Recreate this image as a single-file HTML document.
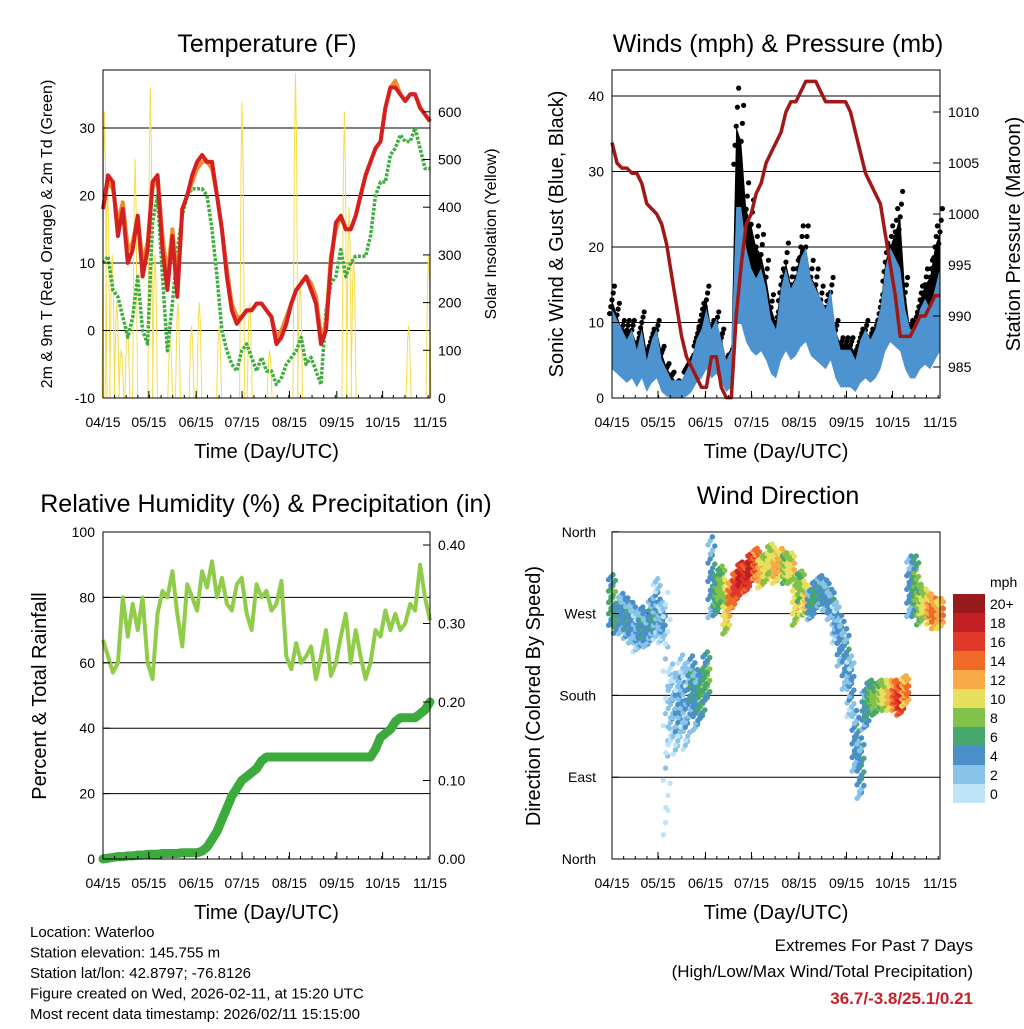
<!DOCTYPE html>
<html><head><meta charset="utf-8"><style>
html,body{margin:0;padding:0;background:#fff}
svg text{font-family:"Liberation Sans",sans-serif}
</style></head><body>
<svg id="s" width="1024" height="1024" viewBox="0 0 1024 1024" xmlns="http://www.w3.org/2000/svg"></svg>
<script>
// ---------- DATA ----------
const monthTicks = ["04/15","05/15","06/15","07/15","08/15","09/15","10/15","11/15"];
const tempRed = [18,23,22,14,18,10,12,17,8,12,22,23,12,6,14,5,18,20,23,25,26,25,25,20,15,8,3,1,2,3,3,4,4,3,2,-2,-1,1,4,6,7,8,6,4,-2,0,10,16,17,15,15,17,20,23,25,27,28,33,36,36,35,34,35,35,33,32,31];
const tempOrange = [18,22,21,16,19,12,13,17,10,13,21,23,14,8,15,7,18,20,22,24,25,25,24,20,15,9,4,2,2,3,3,4,4,3,2,-1,0,2,4,6,7,8,7,5,-1,1,11,15,17,15,15,17,20,23,25,27,28,33,36,37,35,34,35,35,33,32,31];
const tempGreen = [10,11,6,5,2,-1,2,8,0,-2,16,20,8,-3,4,12,17,20,21,21,21,20,15,8,0,-3,-5,-6,-3,-2,-4,-6,-4,-6,-6,-8,-7,-5,-4,-3,-1,-5,-4,-6,-8,3,7,8,12,8,10,11,11,11,14,20,22,22,26,27,29,28,28,30,27,24,24];
const solarPeakDay = [1,3,6,9,12,16,21,31,34,44,49,58,63,76,91,96,109,126,129,158,161,164,200,213];
const solarPeakVal = [600,450,300,200,100,150,500,650,300,120,200,150,200,150,620,200,100,680,250,600,400,300,150,300];
const windSonic = [8,7,6,5,6,4,6,3,5,6,3,2,1,1,1,2,3,5,6,8,6,7,5,3,4,18,18,14,12,11,12,10,7,6,10,12,10,11,13,14,11,10,9,8,10,6,4,4,4,3,5,6,5,6,8,12,14,13,12,8,6,6,8,9,8,10,12];
const windGust = [13,11,9,9,9,7,10,6,8,9,6,4,3,2,2,4,5,8,11,13,9,10,8,5,6,36,34,25,23,20,19,16,12,10,15,18,15,16,20,20,16,15,13,12,14,9,7,7,7,6,8,9,8,9,12,18,20,22,24,14,9,10,13,15,16,20,22];
const pressure = [1007,1005,1004.5,1004.5,1004,1004,1003,1001,1000.5,1000,999,997,994,991,988,986,985,984,983,983,986,986,983,982,982,990,995,999,1000,1002,1003,1005,1006,1007,1008,1010,1011,1011,1012,1013,1013,1013,1012,1011,1011,1011,1011,1011,1010,1008,1006,1004,1003,1002,1001,998,995,992,988,988,988,989,990,990,991,992,992];
const rh = [67,62,57,60,80,68,78,70,80,60,55,75,82,80,88,75,65,84,80,76,88,83,91,80,86,78,76,84,86,75,70,84,80,82,76,78,85,62,58,66,60,62,65,55,62,70,56,60,68,75,60,70,62,55,60,70,68,76,70,75,70,72,78,76,90,80,73];
const precip = [0,0.001,0.002,0.003,0.003,0.004,0.004,0.005,0.005,0.006,0.006,0.006,0.007,0.007,0.007,0.007,0.008,0.008,0.008,0.008,0.01,0.015,0.025,0.035,0.05,0.065,0.08,0.09,0.1,0.105,0.11,0.115,0.125,0.13,0.13,0.13,0.13,0.13,0.13,0.13,0.13,0.13,0.13,0.13,0.13,0.13,0.13,0.13,0.13,0.13,0.13,0.13,0.13,0.13,0.13,0.14,0.155,0.16,0.165,0.175,0.18,0.18,0.18,0.18,0.185,0.19,0.2];
const dirVal = [285,265,270,265,260,250,255,250,265,275,260,160,170,160,180,165,190,175,180,200,310,290,300,270,290,300,310,310,320,325,315,320,330,320,325,320,320,285,300,285,280,290,295,290,280,260,240,220,190,130,100,165,180,175,180,180,180,180,175,185,300,300,280,280,275,270,270];
const dirSpread = [25,15,20,20,20,20,20,15,20,30,20,120,40,40,40,40,30,30,25,25,40,20,20,20,15,15,15,15,15,15,15,15,15,15,15,15,15,25,15,15,15,15,15,15,15,20,25,30,30,30,30,20,15,15,15,15,15,15,15,15,30,30,20,15,15,15,15];
const dirSpeed = [6,6,4,5,4,3,5,4,5,3,3,1,2,3,3,3,5,4,6,6,4,7,8,10,14,16,18,17,18,15,12,10,10,12,12,9,10,10,8,11,5,6,5,4,4,3,4,4,3,4,4,5,7,8,9,10,12,15,17,13,4,7,9,10,13,14,12];
const cbLabels = ["0","2","4","6","8","10","12","14","16","18","20+"];
const cbColors = ["#bde4f7","#8ac3ea","#4a8fc9","#46a86c","#82c24a","#e6e05c","#f6ab48","#f06a2a","#e0392a","#c21f24","#981a1c"];

// ---------- HELPERS ----------
const S=document.getElementById('s'),NS="http://www.w3.org/2000/svg";
function el(t,a,p){const e=document.createElementNS(NS,t);for(const k in a)e.setAttribute(k,a[k]);(p||S).appendChild(e);return e;}
function txt(x,y,s,sz,anc,extra){const e=el('text',Object.assign({x:x,y:y,'font-size':sz,'text-anchor':anc||'middle',fill:'#000'},extra||{}));e.textContent=s;return e;}
const TOTAL=214;
function panel(name){
  const g=el('g',{});
  
  
  return g;
}
function xAxis(g,x0,x1,y1){
  const xs=d=>x0+d/TOTAL*(x1-x0);
  const days=[0,30,61,91,122,153,183,214];
  monthTicks.forEach((m,i)=>{const x=xs(days[i]);el('line',{x1:x,x2:x,y1:y1,y2:y1-7,stroke:'#000'},g);const t=txt(x,y1+29,m,14,'middle');});
  for(let d=0;d<=214;d+=7.6){const x=xs(d);el('line',{x1:x,x2:x,y1:y1,y2:y1-3,stroke:'#000'},g);}
  const t=txt((x0+x1)/2,y1+60,"Time (Day/UTC)",20,'middle');
  return xs;
}
function series(arr,x0,x1){return arr.map((v,i)=>[x0+i*(x1-x0)/(arr.length-1),v]);}
function poly(g,pts,ys,attrs){return el('polyline',Object.assign({points:pts.map(p=>p[0].toFixed(1)+','+ys(p[1]).toFixed(1)).join(' '),fill:'none','stroke-linejoin':'round'},attrs),g);}

// ---------- PANEL 1: TEMPERATURE ----------
(function(){
  const X0=103,X1=430,Y0=70,Y1=398;
  const g=panel('temperature-chart');
  const ys=v=>398-(v+10)*6.75, ysr=v=>398-v*0.477;
  const xs=d=>X0+d/TOTAL*(X1-X0);
  [0,10,20,30].forEach(v=>el('line',{x1:X0,x2:X1,y1:ys(v),y2:ys(v),stroke:'#000','stroke-width':1},g));
  let pts=[];solarPeakDay.forEach((d,i)=>{const x=xs(d);pts.push([x-2.5,0],[x-1,solarPeakVal[i]*0.8],[x,solarPeakVal[i]],[x+1,solarPeakVal[i]*0.8],[x+2.5,0]);});
  const sl=poly(g,pts,ysr,{stroke:'#f7dc4a','stroke-width':1});
  const gl=poly(g,series(tempGreen,X0,X1),ys,{stroke:'#3fae3f','stroke-width':3.5,'stroke-dasharray':'3 1.5'});
  const ol=poly(g,series(tempOrange,X0,X1),ys,{stroke:'#f08a30','stroke-width':4});
  const rl=poly(g,series(tempRed,X0,X1),ys,{stroke:'#d42020','stroke-width':4});
  el('rect',{x:X0,y:Y0,width:X1-X0,height:Y1-Y0,fill:'none',stroke:'#000'},g);
  [-10,0,10,20,30].forEach(v=>{el('line',{x1:X0,x2:X0+7,y1:ys(v),y2:ys(v),stroke:'#000'},g);txt(X0-8,ys(v)+5,String(v),14,'end');});
  [0,100,200,300,400,500,600].forEach(v=>{el('line',{x1:X1,x2:X1-7,y1:ysr(v),y2:ysr(v),stroke:'#000'},g);txt(X1+8,ysr(v)+5,String(v),14,'start');});
  xAxis(g,X0,X1,Y1);
  const t=txt(267,52,"Temperature (F)",25);
  const a=txt(0,0,"2m & 9m T (Red, Orange) & 2m Td (Green)",16,'middle',{transform:'translate(52,234) rotate(-90)'});
  const b=txt(0,0,"Solar Insolation (Yellow)",16,'middle',{transform:'translate(496,234) rotate(-90)'});
})();

// ---------- PANEL 2: WINDS ----------
(function(){
  const X0=612,X1=940,Y0=70,Y1=398;
  const g=panel('winds-pressure-chart');
  const ys=v=>Math.min(398,398-v*7.55), ysr=v=>316-(v-990)*10.2;
  [10,20,30,40].forEach(v=>el('line',{x1:X0,x2:X1,y1:ys(v),y2:ys(v),stroke:'#000'},g));
  const gp=series(windGust,X0,X1), sp=series(windSonic,X0,X1);
  const blk=el('polygon',{points:gp.map(p=>p[0].toFixed(1)+','+ys(p[1]).toFixed(1)).concat(sp.slice().reverse().map(p=>p[0].toFixed(1)+','+ys(p[1]).toFixed(1))).join(' '),fill:'#000'},g);
  
  gp.forEach(p=>{for(let k=-2;k<=2;k++){const c=el('circle',{cx:p[0]+k*1.2,cy:ys(p[1]*(1+k*0.07)),r:2.6,fill:'#000'},g);}});
  const blu=el('polygon',{points:sp.map(p=>p[0].toFixed(1)+','+ys(p[1]*1.35+1).toFixed(1)).concat(sp.slice().reverse().map(p=>p[0].toFixed(1)+','+ys(p[1]*0.6-1).toFixed(1))).join(' '),fill:'#4d93cf'},g);
  
  const pl=poly(g,series(pressure,X0,X1),ysr,{stroke:'#a01818','stroke-width':3.5});
  el('rect',{x:X0,y:Y0,width:X1-X0,height:Y1-Y0,fill:'none',stroke:'#000'},g);
  [0,10,20,30,40].forEach(v=>{el('line',{x1:X0,x2:X0+7,y1:ys(v),y2:ys(v),stroke:'#000'},g);txt(X0-8,ys(v)+5,String(v),14,'end');});
  [985,990,995,1000,1005,1010].forEach(v=>{el('line',{x1:X1,x2:X1-7,y1:ysr(v),y2:ysr(v),stroke:'#000'},g);txt(X1+8,ysr(v)+5,String(v),14,'start');});
  xAxis(g,X0,X1,Y1);
  const t=txt(778,52,"Winds (mph) & Pressure (mb)",25);
  const a=txt(0,0,"Sonic Wind & Gust (Blue, Black)",20,'middle',{transform:'translate(563,234) rotate(-90)'});
  const b=txt(0,0,"Station Pressure (Maroon)",20,'middle',{transform:'translate(1020,234) rotate(-90)'});
})();

// ---------- PANEL 3: RH & PRECIP ----------
(function(){
  const X0=103,X1=430,Y0=532,Y1=859;
  const g=panel('humidity-precip-chart');
  const ys=v=>859-v*3.27, ysr=v=>859-v*785;
  [20,40,60,80].forEach(v=>el('line',{x1:X0,x2:X1,y1:ys(v),y2:ys(v),stroke:'#000'},g));
  const rl=poly(g,series(rh,X0,X1),ys,{stroke:'#8fcc4a','stroke-width':4});
  const pl=poly(g,series(precip,X0,X1),ysr,{stroke:'#3caa3c','stroke-width':9,'stroke-linecap':'round'});
  el('rect',{x:X0,y:Y0,width:X1-X0,height:Y1-Y0,fill:'none',stroke:'#000'},g);
  [0,20,40,60,80,100].forEach(v=>{el('line',{x1:X0,x2:X0+7,y1:ys(v),y2:ys(v),stroke:'#000'},g);txt(X0-8,ys(v)+5,String(v),14,'end');});
  [0,0.1,0.2,0.3,0.4].forEach(v=>{el('line',{x1:X1,x2:X1-7,y1:ysr(v),y2:ysr(v),stroke:'#000'},g);txt(X1+8,ysr(v)+5,v.toFixed(2),14,'start');});
  xAxis(g,X0,X1,Y1);
  const t=txt(266,512,"Relative Humidity (%) & Precipitation (in)",25);
  const a=txt(0,0,"Percent & Total Rainfall",20,'middle',{transform:'translate(46,696) rotate(-90)'});
})();

// ---------- PANEL 4: WIND DIRECTION ----------
(function(){
  const X0=612,X1=940,Y0=532,Y1=859;
  const g=panel('wind-direction-chart');
  const ys=v=>859-v*0.909;
  [90,180,270].forEach(v=>el('line',{x1:X0,x2:X1,y1:ys(v),y2:ys(v),stroke:'#000'},g));
  const col=s=>cbColors[Math.min(10,Math.max(0,Math.round(s/2)))];
  const pts=series(dirVal,X0,X1);
  pts.forEach((p,i)=>{
    const sp=dirSpread[i];
    for(let k=-4;k<=4;k++){for(let j=-1;j<=1;j++){
      const d=Math.max(0,Math.min(360,p[1]+k*sp/4+j*sp/9));
      const s=dirSpeed[i]+(Math.abs(k)>2?-2:0)+j;
      const c=el('circle',{cx:(p[0]+j*2.2+((k%2)?1.2:-1.2)).toFixed(1),cy:ys(d).toFixed(1),r:2.7,fill:col(s)},g);
      
      
    }}
  });
  el('rect',{x:X0,y:Y0,width:X1-X0,height:Y1-Y0,fill:'none',stroke:'#000'},g);
  [["North",360],["West",270],["South",180],["East",90],["North",0]].forEach(a=>{el('line',{x1:X0,x2:X0+7,y1:ys(a[1]),y2:ys(a[1]),stroke:'#000'},g);txt(X0-16,ys(a[1])+5,a[0],14,'end');});
  xAxis(g,X0,X1,Y1);
  const t=txt(778,504,"Wind Direction",25);
  const a=txt(0,0,"Direction (Colored By Speed)",20,'middle',{transform:'translate(540,696) rotate(-90)'});
  const cb=el('g',{});
  
  
  cbColors.forEach((c,i)=>{const y=594+(10-i)*19;el('rect',{x:953,y:y,width:32,height:19,fill:c},cb);const l=txt(990,y+15,cbLabels[i],14,'start');});
  txt(990,587,"mph",14,'start');
})();

// ---------- FOOTER ----------
const info=["Location: Waterloo","Station elevation: 145.755 m","Station lat/lon: 42.8797; -76.8126","Figure created on Wed, 2026-02-11, at 15:20 UTC","Most recent data timestamp: 2026/02/11 15:15:00"];
info.forEach((s,i)=>{const t=txt(30,937+i*20.5,s,15,'start');});
const e1=txt(973,951,"Extremes For Past 7 Days",17,'end');
const e2=txt(973,977,"(High/Low/Max Wind/Total Precipitation)",17,'end');
const e3=txt(973,1004,"36.7/-3.8/25.1/0.21",17,'end',{fill:'#c8202a','font-weight':'bold'});
</script>
</body></html>
